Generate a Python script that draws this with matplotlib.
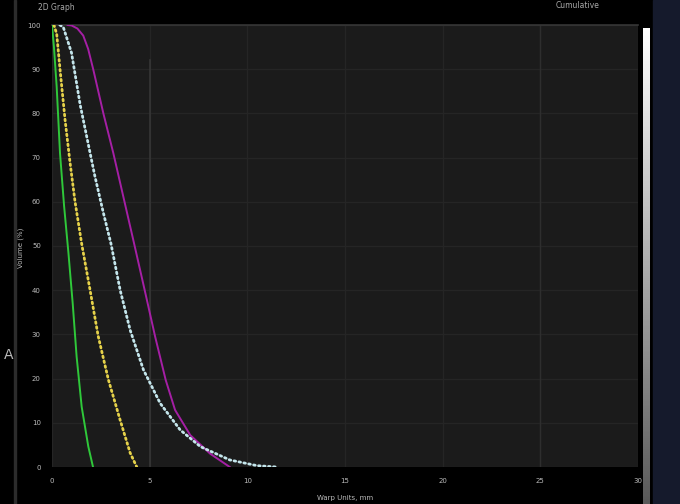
"""Cumulative volume curves on a dark 2D graph panel, redrawn from a screenshot."""
import matplotlib
matplotlib.use("Agg")
import matplotlib.pyplot as plt
import numpy as np
from matplotlib.patches import Rectangle

# curves: x in mm, cumulative volume in %
green_x = [0.0, 0.1, 0.24, 0.41, 0.62, 0.84, 1.06, 1.26, 1.52, 1.86, 2.1]
green_y = [100, 95, 86, 71, 59, 48.5, 37, 25, 13.6, 4.6, 0]

yellow_x = [0.1, 0.24, 0.41, 0.67, 0.92, 1.18, 1.52, 1.95, 2.37, 2.89, 3.49, 4.0, 4.34]
yellow_y = [100, 98, 90, 78.5, 69, 60, 50.5, 40, 29.5, 19.7, 10.6, 3.2, 0]

cyan_x = [0.4, 0.58, 1.0, 1.44, 1.78, 2.2, 2.63, 3.02, 3.49, 4.0, 4.68, 5.54, 6.56,
          7.6, 9.1, 10.5, 11.5]
cyan_y = [100, 99.5, 93.7, 82, 74.7, 65.7, 57.5, 50.5, 40, 31, 22, 14.4, 8.4,
          4.6, 1.6, 0.3, 0]

magenta_x = [0.8, 1.0, 1.3, 1.6, 1.85, 2.12, 2.63, 3.14, 3.66, 4.18, 4.72, 5.28,
             5.82, 6.3, 7.08, 8.1, 9.1]
magenta_y = [100, 99.9, 99.2, 97.6, 94.6, 89.8, 80, 71, 61, 51, 40.5, 29.5,
             19.7, 12.9, 7.2, 3.0, 0]

x_ticks = [0, 5, 10, 15, 20, 25, 30]
y_ticks = [0, 10, 20, 30, 40, 50, 60, 70, 80, 90, 100]

W, H = 680, 504
fig = plt.figure(figsize=(W / 100, H / 100), dpi=100, facecolor="black")

# right-hand navy strip and left frame line
fig.patches.append(Rectangle((653 / W, 0), 27 / W, 1, transform=fig.transFigure,
                             color="#151a2c", zorder=0))
fig.patches.append(Rectangle((14 / W, 0), 2 / W, 1, transform=fig.transFigure,
                             color="#2c2c2c", zorder=0))

ax = fig.add_axes([52 / W, 1 - 467 / H, 586 / W, 442 / H])
ax.set_facecolor("#1b1b1b")
ax.set_xlim(0, 30)
ax.set_ylim(0, 100)
ax.set_xticks(x_ticks)
ax.set_yticks(y_ticks)
ax.grid(True, color="#252525", lw=0.9)
ax.axvline(5, ymax=0.92, color="#363636", lw=1.2)
ax.axvline(25, color="#2e2e2e", lw=1.0)
for s in ax.spines.values():
    s.set_visible(False)
ax.plot([0, 30], [100, 100], color="#363636", lw=1.2, clip_on=False)
ax.tick_params(colors="#bbbbbb", labelsize=5, length=0, pad=8)

ax.plot(green_x, green_y, color="#2fc83a", lw=1.4)
ax.plot(magenta_x, magenta_y, color="#a51fa5", lw=1.4)
ax.plot(yellow_x, yellow_y, color="#e6d24a", lw=2.0, ls=(0, (0.6, 1.2)),
        dash_capstyle="round")
ax.plot(cyan_x, cyan_y, color="#c4e6ec", lw=2.0, ls=(0, (0.6, 1.2)),
        dash_capstyle="round")

ax.set_xlabel("Warp Units, mm", color="#bbbbbb", fontsize=5)
ax.set_ylabel("Volume (%)", color="#bbbbbb", fontsize=5)
ax.xaxis.set_label_coords((345 - 52) / 586, -28 / 442)
ax.yaxis.set_label_coords((24 - 52) / 586, (467 - 248) / 442)

# white gradient bar on the right
cax = fig.add_axes([643 / W, 0, 7 / W, (H - 28) / H])
grad = np.linspace(1, 0.35, 256).reshape(-1, 1)
cax.imshow(grad, aspect="auto", cmap="gray", vmin=0, vmax=1)
cax.axis("off")

fig.text(38 / W, 1 - 7 / H, "2D Graph", color="#aaaaaa", fontsize=5.5, va="center")
fig.text(556 / W, 1 - 6 / H, "Cumulative", color="#aaaaaa", fontsize=5.5, va="center")
fig.text(4 / W, 1 - 355 / H, "A", color="#bbbbbb", fontsize=10, va="center")

fig.savefig("out.png", dpi=100, facecolor="black")
plt.close(fig)
